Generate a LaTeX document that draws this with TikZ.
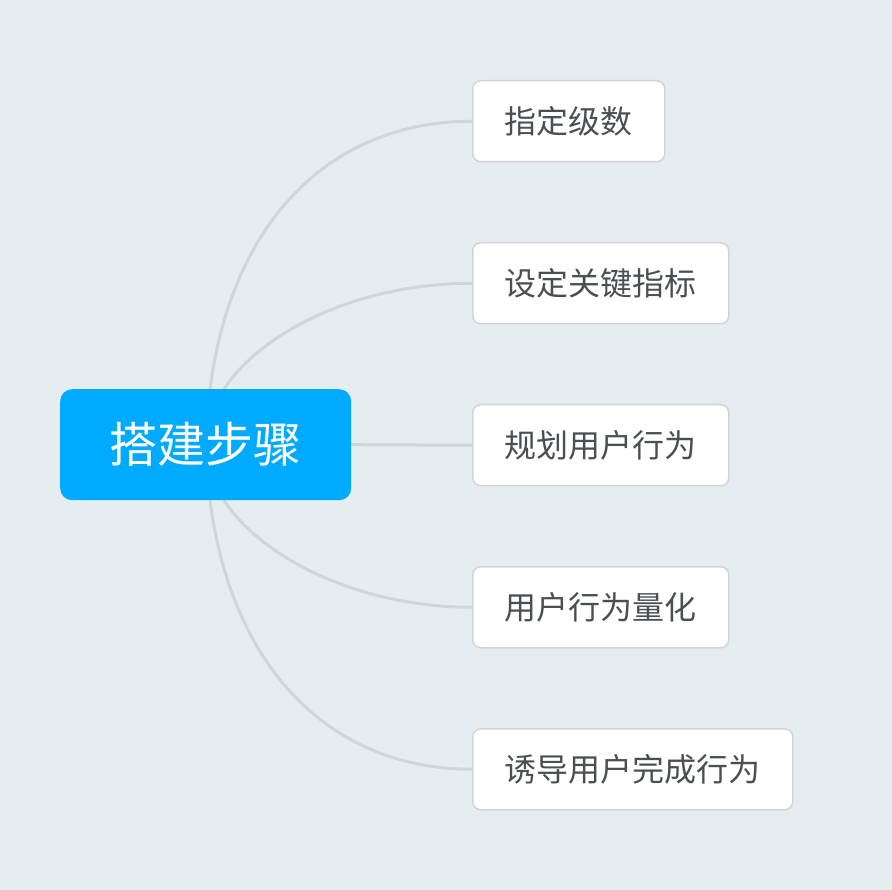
\documentclass[tikz,border=0pt]{standalone}
\usepackage{fontspec}
\newfontfamily\cjk{Noto Sans CJK SC}
\definecolor{bg}{HTML}{E6EDF1}
\definecolor{rootblue}{HTML}{00AAFF}
\definecolor{linegray}{HTML}{D0D5D8}
\definecolor{txtgray}{HTML}{4A4F52}
\pgfdeclarelayer{bglayer}
\pgfsetlayers{bglayer,main}
\begin{document}
\begin{tikzpicture}[x=1pt,y=-1pt,
  rootbox/.style={draw=none,fill=rootblue,rounded corners=12pt,text=white,font=\cjk\fontsize{48}{52}\selectfont,inner sep=0pt,anchor=north west},
  childbox/.style={draw=linegray,line width=1.5pt,fill=white,rounded corners=8pt,text=txtgray,font=\cjk\fontsize{32}{36}\selectfont,inner sep=0pt,anchor=north west},
  conn/.style={draw=linegray,line width=3pt}]
\node[rootbox,minimum width=291pt,minimum height=111pt] (root) at (60,389) {搭建步骤};
\node[childbox,minimum width=192pt,minimum height=81pt] (c1) at (472,80) {指定级数};
\node[childbox,minimum width=256pt,minimum height=81pt] (c2) at (472,242) {设定关键指标};
\node[childbox,minimum width=256pt,minimum height=81pt] (c3) at (472,404) {规划用户行为};
\node[childbox,minimum width=256pt,minimum height=81pt] (c4) at (472,566) {用户行为量化};
\node[childbox,minimum width=320pt,minimum height=81pt] (c5) at (472,728) {诱导用户完成行为};
\coordinate (t1) at ([xshift=150pt]root.north west);
\coordinate (t2) at ([xshift=164pt]root.north west);
\coordinate (b1) at ([xshift=150pt]root.south west);
\coordinate (b2) at ([xshift=164pt]root.south west);
\begin{pgfonlayer}{bglayer}
\fill[bg] (0,0) rectangle (892,890);
\path[conn] (t1) .. controls ++(22,-170) and ++(-140,0) .. (c1.west);
\path[conn] (t2) .. controls ++(40,-60) and ++(-110,0) .. (c2.west);
\path[conn] (root.east) -- (c3.west);
\path[conn] (b2) .. controls ++(40,60) and ++(-110,0) .. (c4.west);
\path[conn] (b1) .. controls ++(22,170) and ++(-140,0) .. (c5.west);
\end{pgfonlayer}
\useasboundingbox (0,0) rectangle (892,890);
\end{tikzpicture}
\end{document}
